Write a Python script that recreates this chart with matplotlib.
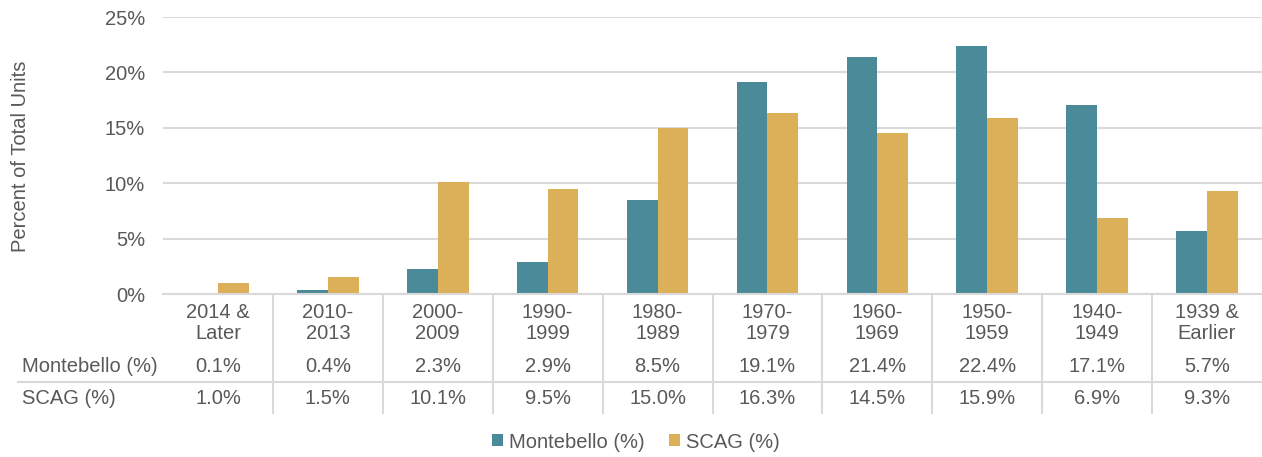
import numpy as np
import matplotlib.pyplot as plt
from matplotlib.transforms import blended_transform_factory
from matplotlib.lines import Line2D

# Data
categories = ["2014 &\nLater", "2010-\n2013", "2000-\n2009", "1990-\n1999", "1980-\n1989",
              "1970-\n1979", "1960-\n1969", "1950-\n1959", "1940-\n1949", "1939 &\nEarlier"]
montebello = [0.1, 0.4, 2.3, 2.9, 8.5, 19.1, 21.4, 22.4, 17.1, 5.7]
scag = [1.0, 1.5, 10.1, 9.5, 15.0, 16.3, 14.5, 15.9, 6.9, 9.3]
yticks = [0, 5, 10, 15, 20, 25]

teal = "#4a8a99"
gold = "#dcb059"
txt = "#595959"
grid = "#d9d9d9"
fs = 14.5

plt.rcParams['font.family'] = ['Liberation Sans', 'DejaVu Sans']

W, H = 1262, 457
fig = plt.figure(figsize=(W / 100, H / 100), dpi=100)
ax = fig.add_axes([163 / W, (H - 294) / H, (W - 163) / W, (294 - 17) / H])

x = np.arange(len(categories))
bw = 0.28
ax.bar(x - bw / 2, montebello, bw, color=teal, label="Montebello (%)", zorder=3)
ax.bar(x + bw / 2, scag, bw, color=gold, label="SCAG (%)", zorder=3)

ax.set_xlim(-0.5, len(categories) - 0.5)
ax.set_ylim(0, 25)
ax.set_yticks(yticks)
ax.set_yticklabels([f"{v}%" for v in yticks], color=txt, fontsize=fs)
ax.tick_params(axis='y', length=0, pad=13)
ax.set_xticks([])
ax.yaxis.grid(True, color=grid, linewidth=1.5, zorder=0)
for s in ["top", "right", "left"]:
    ax.spines[s].set_visible(False)
ax.spines["bottom"].set_color(grid)
ax.spines["bottom"].set_linewidth(1.5)
ax.spines["bottom"].set_zorder(4)

fig.text(21 / W, (H - 156) / H, "Percent of Total Units", rotation=90,
         ha='center', va='center', color=txt, fontsize=fs)

# data table under the plot
tr = blended_transform_factory(ax.transData, fig.transFigure)
fy = lambda py: (H - py) / H
for i, c in enumerate(categories):
    ax.text(i, fy(323), c, transform=tr, ha='center', va='center', color=txt,
            fontsize=fs, linespacing=1.15, clip_on=False)
    ax.text(i, fy(366), f"{montebello[i]:.1f}%", transform=tr, ha='center', va='center',
            color=txt, fontsize=fs, clip_on=False)
    ax.text(i, fy(398), f"{scag[i]:.1f}%", transform=tr, ha='center', va='center',
            color=txt, fontsize=fs, clip_on=False)
for b in np.arange(0.5, len(categories) - 0.5, 1.0):
    fig.add_artist(Line2D([b, b], [fy(294), fy(413)], transform=tr, color=grid, linewidth=1.5))
fig.add_artist(Line2D([18 / W, 1.0], [fy(382), fy(382)], transform=fig.transFigure,
                      color=grid, linewidth=1.5))
fig.text(22 / W, fy(366), "Montebello (%)", ha='left', va='center', color=txt, fontsize=fs)
fig.text(22 / W, fy(398), "SCAG (%)", ha='left', va='center', color=txt, fontsize=fs)

fig.legend(loc='center', bbox_to_anchor=(636 / W, fy(442)), ncol=2, frameon=False,
           fontsize=fs, labelcolor=txt, handlelength=0.55, handleheight=0.55,
           handletextpad=0.3, columnspacing=1.2)

fig.savefig("out.png", dpi=100)
